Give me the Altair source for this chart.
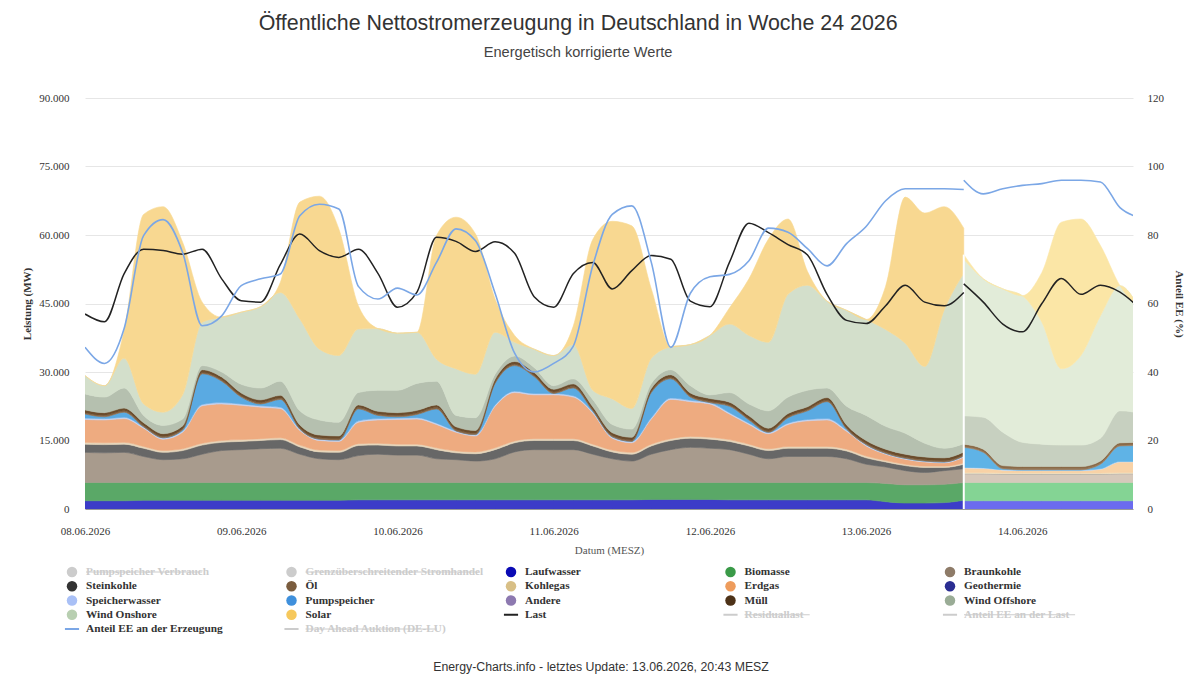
import altair as alt
import pandas as pd

# ---------------- data (values in 1000 MW) ----------------
# actual values, every 3 hours from 08.06.2026 00:00 to 13.06.2026 15:00
hours_act = list(range(0, 136, 3))
laufwasser = [1.8, 1.8, 1.8, 1.9, 1.9, 1.9, 1.9, 1.9, 1.9, 1.9, 1.9, 1.9, 1.9, 1.9, 2.0, 2.0,
              2.0, 2.0, 2.0, 2.0, 2.0, 2.0, 2.0, 2.0, 2.0, 2.0, 2.0, 2.0, 2.0, 2.1, 2.1, 2.1,
              2.1, 2.0, 2.0, 2.0, 2.0, 2.0, 2.0, 2.0, 2.0, 1.6, 1.3, 1.3, 1.4, 1.9]
biomasse = [4.0, 4.0, 4.0, 3.9, 3.9, 3.9, 3.9, 3.9, 3.9, 3.9, 3.9, 3.9, 3.9, 3.9, 3.8, 3.8,
            3.8, 3.8, 3.8, 3.8, 3.8, 3.8, 3.8, 3.8, 3.8, 3.8, 3.8, 3.8, 3.8, 3.7, 3.7, 3.7,
            3.7, 3.8, 3.8, 3.8, 3.8, 3.8, 3.8, 3.8, 3.8, 4.0, 4.0, 4.0, 4.0, 3.9]
braunkohle = [6.6, 6.5, 6.6, 5.7, 5.0, 5.2, 6.2, 7.0, 7.2, 7.4, 7.5, 6.2, 5.2, 5.0, 5.9, 6.2,
              6.0, 6.0, 5.2, 5.0, 4.7, 5.2, 6.7, 7.2, 7.2, 7.2, 6.2, 5.2, 4.7, 6.2, 7.2, 7.7,
              7.5, 7.2, 6.2, 5.2, 5.7, 5.7, 5.7, 5.2, 4.0, 3.6, 3.1, 2.7, 3.0, 3.0]
steinkohle = [1.8, 1.8, 1.8, 1.8, 1.6, 1.8, 2.0, 1.8, 1.8, 1.8, 1.9, 1.6, 1.5, 1.6, 2.2, 2.0,
              2.0, 2.0, 2.0, 1.5, 1.6, 2.0, 2.0, 2.0, 2.0, 2.0, 1.8, 1.5, 1.5, 1.8, 2.0, 2.0,
              2.0, 1.8, 1.8, 1.8, 1.8, 1.8, 1.8, 1.7, 1.4, 1.1, 1.1, 1.1, 0.7, 1.0]
kohlegas = [0.4, 0.4, 0.4, 0.4, 0.4, 0.4, 0.4, 0.4, 0.4, 0.4, 0.4, 0.4, 0.4, 0.4, 0.4, 0.4,
            0.4, 0.4, 0.4, 0.4, 0.4, 0.4, 0.4, 0.4, 0.4, 0.4, 0.4, 0.4, 0.4, 0.4, 0.4, 0.4,
            0.4, 0.4, 0.4, 0.4, 0.4, 0.4, 0.4, 0.4, 0.4, 0.3, 0.3, 0.3, 0.3, 0.3]
erdgas = [5.0, 5.0, 5.2, 4.0, 2.5, 3.6, 8.2, 8.0, 7.5, 6.9, 6.4, 3.2, 2.1, 2.0, 4.7, 5.1,
          5.4, 5.5, 5.1, 4.1, 3.5, 9.1, 10.6, 9.6, 9.6, 9.1, 6.8, 2.6, 2.1, 5.5, 8.6, 7.6,
          7.3, 5.6, 4.3, 3.3, 4.8, 5.6, 5.8, 3.9, 2.2, 1.4, 1.1, 0.9, 0.7, 1.3]
speicherwasser = [0.3, 0.3, 0.3, 0.3, 0.3, 0.3, 0.3, 0.3, 0.3, 0.3, 0.3, 0.3, 0.3, 0.3, 0.3, 0.3,
                  0.3, 0.3, 0.3, 0.3, 0.3, 0.3, 0.3, 0.3, 0.3, 0.3, 0.3, 0.3, 0.3, 0.3, 0.3, 0.3,
                  0.3, 0.3, 0.3, 0.3, 0.3, 0.3, 0.3, 0.3, 0.3, 0.2, 0.2, 0.2, 0.2, 0.2]
pumpspeicher = [0.9, 0.4, 1.1, 0.0, 0.0, 0.2, 6.7, 4.7, 1.5, 0.4, 1.7, 0.0, 0.0, 0.0, 2.6, 0.7,
                0.3, 0.7, 3.1, 0.0, 0.0, 4.7, 5.6, 3.7, 0.0, 1.7, 0.2, 0.0, 0.0, 5.5, 4.2, 0.7,
                0.0, 1.4, 0.7, 0.0, 1.2, 1.9, 3.7, 0.2, 0.0, 0.0, 0.0, 0.0, 0.0, 0.0]
oel = [0.3, 0.3, 0.3, 0.3, 0.3, 0.3, 0.3, 0.3, 0.3, 0.3, 0.3, 0.3, 0.3, 0.3, 0.3, 0.3,
       0.3, 0.3, 0.3, 0.3, 0.3, 0.3, 0.3, 0.3, 0.3, 0.3, 0.3, 0.3, 0.3, 0.3, 0.3, 0.3,
       0.3, 0.3, 0.3, 0.3, 0.3, 0.3, 0.3, 0.3, 0.3, 0.3, 0.3, 0.3, 0.3, 0.3]
muell = [0.6, 0.6, 0.6, 0.6, 0.6, 0.6, 0.6, 0.6, 0.6, 0.6, 0.6, 0.6, 0.6, 0.6, 0.6, 0.6,
         0.6, 0.6, 0.6, 0.6, 0.6, 0.6, 0.6, 0.6, 0.6, 0.6, 0.6, 0.6, 0.6, 0.6, 0.6, 0.6,
         0.6, 0.6, 0.6, 0.6, 0.6, 0.6, 0.6, 0.6, 0.6, 0.6, 0.6, 0.6, 0.6, 0.6]
wind_offshore = [3.5, 3.4, 4.4, 1.6, 1.8, 1.5, 0.9, 1.1, 1.9, 2.6, 3.1, 3.1, 3.3, 3.0, 2.7, 4.6,
                 4.9, 5.9, 5.2, 2.5, 2.8, 1.1, 1.2, 1.1, 0.8, 1.1, 1.6, 1.8, 1.8, 1.1, 1.1, 1.6,
                 0.8, 2.1, 2.6, 3.8, 3.6, 3.6, 2.1, 4.1, 5.5, 5.0, 4.6, 3.0, 2.1, 1.8]
wind_onshore = [4.0, 2.5, 6.5, 2.5, 2.9, 5.3, 9.5, 12.0, 15.8, 17.8, 19.4, 20.1, 15.5, 14.6, 13.9, 13.5,
                12.5, 11.2, 4.8, 10.2, 9.5, 9.2, 3.0, 4.0, 6.6, 7.5, 2.0, 5.6, 4.5, 5.5, 5.0, 9.0,
                13.0, 15.0, 15.0, 15.0, 22.5, 23.0, 19.0, 21.0, 21.0, 21.2, 19.7, 16.8, 30.3, 37.3]
solar = [0.0, 0.0, 6.0, 41.5, 45.0, 33.4, 4.4, 0.0, 0.0, 0.0, 2.2, 25.6, 33.5, 27.7, 5.1, 0.0,
         0.0, 0.0, 27.1, 33.2, 30.7, 7.3, 1.5, 0.0, 0.0, 4.0, 33.0, 38.9, 40.0, 15.2, 0.0, 0.0,
         0.0, 3.5, 12.4, 22.6, 16.5, 3.0, 0.0, 0.0, 0.0, 9.5, 32.0, 33.6, 22.6, 9.9]
last = [42.7, 41.0, 51.5, 56.9, 56.6, 55.8, 56.9, 50.4, 45.6, 45.3, 53.5, 60.2, 56.6, 55.1, 56.9, 51.6,
        44.2, 47.5, 59.5, 58.6, 56.4, 58.5, 56.0, 46.5, 44.2, 51.5, 54.0, 48.2, 52.2, 55.5, 54.7, 45.5,
        44.3, 54.0, 62.6, 60.5, 57.9, 55.6, 47.0, 41.3, 40.6, 44.5, 49.0, 45.3, 44.5, 47.4]
anteil_ee = [47.2, 42.5, 52.6, 79.8, 84.5, 74.9, 53.5, 56.4, 65.2, 67.2, 68.6, 85.6, 89.0, 87.6, 65.0, 61.3,
             64.5, 62.5, 72.0, 81.8, 78.3, 63.0, 45.5, 40.0, 42.5, 47.5, 71.0, 86.0, 88.5, 72.0, 47.2, 63.0,
             67.8, 68.5, 72.5, 82.0, 80.8, 76.0, 71.0, 77.5, 82.5, 90.0, 93.5, 93.5, 93.5, 93.3]

# forecast values, every 3 hours from 13.06.2026 15:00
hours_fc = list(range(135, 163, 3))
fc_laufwasser = [1.8, 1.8, 1.8, 1.8, 1.8, 1.8, 1.8, 1.8, 1.8, 1.8]
fc_biomasse = [4.0, 4.0, 4.0, 4.0, 4.0, 4.0, 4.0, 4.0, 4.0, 4.0]
fc_braunkohle = [1.9, 1.9, 1.8, 1.8, 1.8, 1.8, 1.8, 1.8, 1.9, 1.9]
fc_steinkohle = [0.1, 0.1, 0.1, 0.1, 0.1, 0.1, 0.1, 0.1, 0.1, 0.1]
fc_kohlegas = [0.2, 0.2, 0.2, 0.2, 0.2, 0.2, 0.2, 0.2, 0.2, 0.2]
fc_erdgas = [1.0, 0.9, 0.6, 0.5, 0.5, 0.5, 0.5, 0.8, 2.3, 2.3]
fc_speicherwasser = [0.1, 0.1, 0.1, 0.1, 0.1, 0.1, 0.1, 0.1, 0.1, 0.1]
fc_pumpspeicher = [4.4, 3.4, 0.2, 0.1, 0.1, 0.1, 0.1, 1.0, 3.4, 3.5]
fc_oel = [0.2, 0.2, 0.2, 0.2, 0.2, 0.2, 0.2, 0.2, 0.2, 0.2]
fc_muell = [0.5, 0.5, 0.5, 0.5, 0.5, 0.5, 0.5, 0.5, 0.5, 0.5]
fc_wind_offshore = [6.2, 7.0, 7.3, 5.3, 4.9, 4.7, 4.7, 5.0, 7.0, 6.4]
fc_wind_onshore = [34.3, 30.3, 31.4, 32.1, 26.7, 16.7, 19.6, 26.8, 27.4, 22.8]
fc_solar = [1.0, 0.0, 0.0, 0.0, 10.9, 32.1, 29.9, 15.4, 0.0, 0.0]
fc_last = [49.3, 45.3, 40.5, 38.8, 45.0, 50.5, 47.0, 49.0, 47.5, 44.0]
fc_anteil_ee = [96.0, 92.0, 93.5, 94.5, 95.0, 96.0, 96.0, 95.5, 88.0, 85.0]

series_names = ["Laufwasser", "Biomasse", "Braunkohle", "Steinkohle", "Kohlegas", "Erdgas",
                "Speicherwasser", "Pumpspeicher", "Öl", "Müll", "Wind Offshore", "Wind Onshore", "Solar"]
act_values = [laufwasser, biomasse, braunkohle, steinkohle, kohlegas, erdgas, speicherwasser,
              pumpspeicher, oel, muell, wind_offshore, wind_onshore, solar]
fc_values = [fc_laufwasser, fc_biomasse, fc_braunkohle, fc_steinkohle, fc_kohlegas, fc_erdgas,
             fc_speicherwasser, fc_pumpspeicher, fc_oel, fc_muell, fc_wind_offshore,
             fc_wind_onshore, fc_solar]
act_colors = ["#3c3cc8", "#5aa867", "#a89b8d", "#676767", "#e7d6bb", "#eeab80", "#c3d2f2",
              "#5aaae2", "#8c6c4c", "#6b4c2c", "#b5c0af", "#d3dfcb", "#f8d891"]
fc_colors = ["#6b6bef", "#84d494", "#d6c9bb", "#a0a0a0", "#f2e4c4", "#f8d2a6", "#d6e2fa",
             "#5fb3e6", "#a08060", "#8a6a48", "#c7d0c0", "#e2ecd9", "#fbe6a6"]

# legend (row-major, 5 columns)
legend_names = ["Pumpspeicher Verbrauch", "Grenzüberschreitender Stromhandel", "Laufwasser", "Biomasse", "Braunkohle",
                "Steinkohle", "Öl", "Kohlegas", "Erdgas", "Geothermie",
                "Speicherwasser", "Pumpspeicher", "Andere", "Müll", "Wind Offshore",
                "Wind Onshore", "Solar", "Last", "Residuallast", "Anteil EE an der Last",
                "Anteil EE an der Erzeugung", "Day Ahead Auktion (DE-LU)"]
legend_kind = ["circle"] * 17 + ["line"] * 5
legend_colors = ["#cccccc", "#cccccc", "#0a0ab4", "#3a9a48", "#8e7b68",
                 "#333333", "#7a5c3e", "#d8bf86", "#ee9c5c", "#2b2e92",
                 "#a9c0f6", "#3f90dc", "#8d79b0", "#4d3218", "#9aac96",
                 "#b8cfb1", "#f6c85c", "#222222", "#cccccc", "#cccccc",
                 "#7ba7e6", "#cccccc"]
legend_hidden = [True, True, False, False, False,
                 False, False, False, False, False,
                 False, False, False, False, False,
                 False, False, False, True, True,
                 False, True]

# ---------------- build tables ----------------
t0 = pd.Timestamp("2026-06-08 00:00")


def ts(h):
    return (t0 + pd.Timedelta(hours=h)).strftime("%Y-%m-%dT%H:%M:%S")


def stack_rows(hours, values, colors):
    rows = []
    for i, (name, vals, col) in enumerate(zip(series_names, values, colors)):
        for h, v in zip(hours, vals):
            rows.append({"t": ts(h), "s": name, "v": v * 1000, "o": i, "c": col})
    return pd.DataFrame(rows)


df_act = stack_rows(hours_act, act_values, act_colors)
df_fc = stack_rows(hours_fc, fc_values, fc_colors)

df_last = pd.DataFrame(
    [{"t": ts(h), "v": v * 1000, "seg": "ist"} for h, v in zip(hours_act, last)]
    + [{"t": ts(h), "v": v * 1000, "seg": "prognose"} for h, v in zip(hours_fc, fc_last)])
df_ee = pd.DataFrame(
    [{"t": ts(h), "p": v, "seg": "ist"} for h, v in zip(hours_act, anteil_ee)]
    + [{"t": ts(h), "p": v, "seg": "prognose"} for h, v in zip(hours_fc, fc_anteil_ee)])
df_split = pd.DataFrame([{"t": ts(hours_fc[0]), "y0": 0,
                          "y1": sum(vals[0] for vals in fc_values) * 1000}])

# ---------------- scales / axes ----------------
xscale = alt.Scale(domain=[alt.DateTime(year=2026, month=6, date=8, hours=0),
                           alt.DateTime(year=2026, month=6, date=14, hours=17)])
xaxis = alt.Axis(format="%d.%m.%Y", tickCount={"interval": "day", "step": 1}, title="Datum (MESZ)",
                 grid=False, ticks=False, domainColor="#999999", labelPadding=16, titlePadding=8,
                 titleFontWeight="normal", titleColor="#555555", labelFlush=False)
yscale = alt.Scale(domain=[0, 90000])
yaxis = alt.Axis(values=[0, 15000, 30000, 45000, 60000, 75000, 90000], title="Leistung (MW)",
                 labelExpr="replace(format(datum.value, ','), ',', '.')",
                 grid=True, gridColor="#e6e6e6", ticks=False, domain=False,
                 labelPadding=16, titlePadding=6, titleFontWeight="bold")
raxis = alt.Axis(orient="right", values=[0, 20, 40, 60, 80, 100, 120], title="Anteil EE (%)",
                 grid=False, ticks=False, domain=False, labelPadding=14, titlePadding=10,
                 titleFontWeight="bold")

X = alt.X("t:T", scale=xscale, axis=xaxis)


def areas(df):
    return alt.Chart(df).mark_area(interpolate="monotone", clip=True, strokeWidth=0.6).encode(
        x=X,
        y=alt.Y("v:Q", stack="zero", scale=yscale, axis=yaxis),
        color=alt.Color("c:N", scale=None),
        stroke=alt.Color("c:N", scale=None),
        order=alt.Order("o:Q", sort="ascending"),
        detail="s:N",
    )


split = alt.Chart(df_split).mark_rule(color="white", strokeWidth=2).encode(
    x=X, y=alt.Y("y0:Q", scale=yscale, axis=yaxis), y2="y1:Q")

last_line = alt.Chart(df_last).mark_line(color="#222222", strokeWidth=1.5, interpolate="monotone",
                                         clip=True).encode(
    x=X, y=alt.Y("v:Q", scale=yscale, axis=yaxis), detail="seg:N")

ee_line = alt.Chart(df_ee).mark_line(color="#7ba7e6", strokeWidth=1.6, interpolate="monotone",
                                     clip=True).encode(
    x=X, y=alt.Y("p:Q", scale=alt.Scale(domain=[0, 120]), axis=raxis), detail="seg:N")

left = alt.layer(areas(df_act), areas(df_fc), split, last_line)
main = alt.layer(left, ee_line).resolve_scale(y="independent").properties(width=1048, height=411)

# ---------------- legend panel ----------------
COLW = 219.5
char_w = 5.1
leg = pd.DataFrame({
    "name": legend_names,
    "kind": legend_kind,
    "sym": legend_colors,
    "txt": ["#cccccc" if h else "#333333" for h in legend_hidden],
    "hidden": legend_hidden,
    "col": [i % 5 for i in range(len(legend_names))],
    "row": [i // 5 for i in range(len(legend_names))],
})
leg["x1"] = leg["col"] + 14 / COLW
leg["x2"] = leg["col"] + (14 + leg["name"].str.len() * char_w + 4) / COLW

lx = alt.Scale(domain=[13 / COLW, 13 / COLW + 1048 / COLW])
ly = alt.Scale(domain=[0, 4], reverse=True)
LX = alt.X("col:Q", scale=lx, axis=None)
LY = alt.Y("row:Q", scale=ly, axis=None)

base = alt.Chart(leg)
dots = base.transform_filter("datum.kind == 'circle'").mark_circle(size=110, opacity=1).encode(
    x=LX, y=LY, color=alt.Color("sym:N", scale=None))
dashes = base.transform_filter("datum.kind == 'line'").mark_point(
    shape="M-1,0L1,0", size=200, filled=False, strokeWidth=2, opacity=1).encode(
    x=LX, y=LY, color=alt.Color("sym:N", scale=None))
labels = base.mark_text(align="left", baseline="middle", dx=14, font="Liberation Serif",
                        fontSize=11.3, fontWeight="bold").encode(
    x=LX, y=LY, text="name:N", color=alt.Color("txt:N", scale=None))
strikes = base.transform_filter("datum.hidden").mark_rule(color="#cccccc", strokeWidth=1).encode(
    x=alt.X("x1:Q", scale=lx, axis=None), x2="x2:Q", y=LY)

legend = alt.layer(dots, dashes, labels, strikes).properties(
    width=1048, height=57,
    title=alt.Title("Energy-Charts.info - letztes Update: 13.06.2026, 20:43 MESZ", orient="bottom",
                    anchor="middle", font="Liberation Sans", fontSize=12.3, fontWeight="normal",
                    color="#333333", offset=27, dx=-8))

chart = alt.vconcat(main, legend, spacing=11).properties(
    title=alt.Title("Öffentliche Nettostromerzeugung in Deutschland in Woche 24 2026",
                    subtitle="Energetisch korrigierte Werte",
                    anchor="middle", font="Liberation Sans", fontSize=21.4, fontWeight="normal",
                    color="#333333", subtitleFont="Liberation Sans", subtitleFontSize=14.6,
                    subtitleColor="#444444", subtitlePadding=11, offset=32, dx=-25),
    padding={"left": 13, "top": 5, "right": 5, "bottom": 5},
).configure_view(stroke=None).configure_axis(
    labelFont="Liberation Serif", labelFontSize=11, labelColor="#333333",
    titleFont="Liberation Serif", titleFontSize=11, titleColor="#333333")

chart.save("out.html", embed_options={"renderer": "svg", "actions": False})
